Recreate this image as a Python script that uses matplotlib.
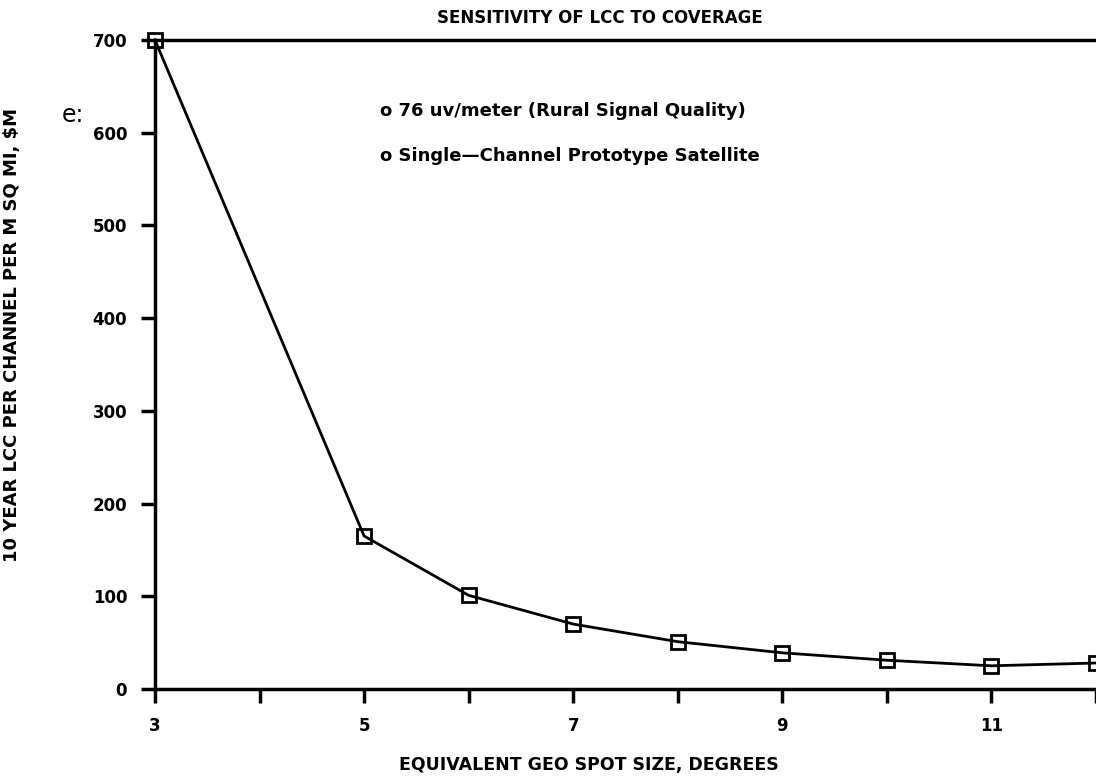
import matplotlib.pyplot as plt
import numpy as np

# spot size (deg) vs 10 year LCC per channel per M sq mi ($M)
spot_size = [3, 5, 6, 7, 8, 9, 10, 11, 12]
lcc = [700, 165, 101, 70, 51, 39, 31, 25, 28]

x_ticks = list(range(3, 13))
x_labels = ["3", "", "5", "", "7", "", "9", "", "11", ""]
y_ticks = [0, 100, 200, 300, 400, 500, 600, 700]

notes = ["o 76 uv/meter (Rural Signal Quality)", "o Single\u2014Channel Prototype Satellite"]

fig = plt.figure(figsize=(10.96, 7.8), dpi=100)
ax = fig.add_axes([0.1414, 0.1167, 0.8586, 0.832])

ax.plot(spot_size, lcc, color="black", lw=2, marker="s", ms=10,
        mfc="none", mec="black", mew=2, clip_on=False, zorder=5)

ax.set_xlim(3, 11.96)
ax.set_ylim(0, 700)
ax.set_xticks(x_ticks)
ax.set_xticklabels(x_labels)
ax.set_yticks(y_ticks)

for s in ["left", "bottom", "top"]:
    ax.spines[s].set_linewidth(2.5)
ax.spines["right"].set_visible(False)

ax.tick_params(axis="both", direction="out", length=10, width=2.5,
               labelsize=12, pad=10)
for lab in ax.get_xticklabels() + ax.get_yticklabels():
    lab.set_fontweight("bold")

# axis titles placed in figure coords to match the scan
fig.text(0.537, 0.008, "EQUIVALENT GEO SPOT SIZE, DEGREES", fontsize=12.5,
         fontweight="bold", ha="center", va="bottom")
fig.text(0.011, 0.57, "10 YEAR LCC PER CHANNEL PER M SQ MI, $M", fontsize=13,
         fontweight="bold", rotation=90, ha="center", va="center")
fig.text(0.547, 0.977, "SENSITIVITY OF LCC TO COVERAGE", fontsize=12,
         fontweight="bold", ha="center", va="center")

fig.text(0.347, 0.858, notes[0], fontsize=13, fontweight="bold", va="center")
fig.text(0.347, 0.80, notes[1], fontsize=13, fontweight="bold", va="center")
fig.text(0.056, 0.852, "e:", fontsize=17, va="center")

fig.savefig("out.png", dpi=100)
